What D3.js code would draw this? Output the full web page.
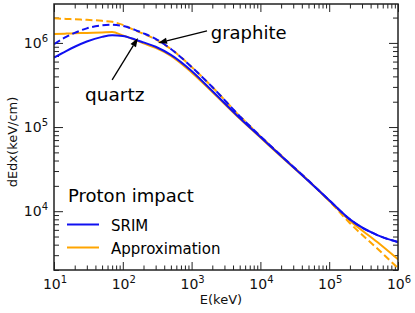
<!DOCTYPE html>
<html>
<head>
<meta charset="utf-8">
<script src="https://cdn.jsdelivr.net/npm/d3@7"></script>
<style>
  body { margin: 0; background: #fff; }
  svg { display: block; font-family: "DejaVu Sans", sans-serif; }
</style>
</head>
<body>
<svg id="chart" width="415" height="313"></svg>
<script>
// energies (keV)
const energy = [10, 15, 20, 30, 50, 70, 100, 150, 200, 300, 500, 1e3, 2e3, 5e3, 1e4, 2e4, 5e4, 1e5, 2e5, 5e5, 1e6];

// dE/dx (keV/cm)
const srimQuartz = [6.7e5, 8.0e5, 9.0e5, 1.04e6, 1.18e6, 1.235e6, 1.21e6, 1.10e6, 1.014e6, 9.0e5, 7.2e5, 4.64e5, 2.68e5, 1.28e5, 7.6e4, 4.52e4, 2.28e4, 1.35e4, 8.0e3, 5.2e3, 4.3e3];
const srimGraphite = [9.65e5, 1.18e6, 1.315e6, 1.49e6, 1.615e6, 1.64e6, 1.59e6, 1.43e6, 1.30e6, 1.116e6, 8.48e5, 5.18e5, 2.99e5, 1.35e5, 7.8e4, 4.58e4, 2.31e4, 1.35e4, 8.0e3, 5.2e3, 4.3e3];
const approxQuartz = [1.28e6, 1.29e6, 1.30e6, 1.315e6, 1.334e6, 1.35e6, 1.228e6, 1.086e6, 9.86e5, 8.72e5, 7.0e5, 4.46e5, 2.61e5, 1.26e5, 7.5e4, 4.46e4, 2.28e4, 1.33e4, 7.7e3, 4.3e3, 2.68e3];
const approxGraphite = [1.96e6, 1.93e6, 1.905e6, 1.88e6, 1.83e6, 1.78e6, 1.64e6, 1.41e6, 1.28e6, 1.10e6, 8.48e5, 5.18e5, 2.99e5, 1.35e5, 7.8e4, 4.58e4, 2.31e4, 1.33e4, 7.2e3, 3.6e3, 2.1e3];

const xTickExp = [1, 2, 3, 4, 5, 6];
const yTickExp = [4, 5, 6];
const legendLabels = ["SRIM", "Approximation"];

const svg = d3.select("#chart");
const margin = {left: 54, right: 17, top: 4, bottom: 43};
const W = 415, H = 313;

const x = d3.scaleLog().domain([10, 1e6]).range([margin.left, W - margin.right]);
const y = d3.scaleLog().domain([2000, 2.9e6]).range([H - margin.bottom, margin.top]);

const blue = "#1010f0", orange = "#ffa500";

// minor ticks
function minors(lo, hi) {
  const out = [];
  for (let e = lo; e < hi; e++) for (let k = 2; k <= 9; k++) {
    out.push(k * Math.pow(10, e));
  }
  return out;
}
const xMinor = minors(1, 6);
const yMinor = minors(3, 7).filter(v => v >= 2000 && v <= 2.9e6);
const xMajor = xTickExp.map(e => Math.pow(10, e));
const yMajor = yTickExp.map(e => Math.pow(10, e));

const axisCol = "#222";
function axisGroup(axis, tx, ty) {
  const g = svg.append("g").attr("transform", `translate(${tx},${ty})`).call(axis);
  g.selectAll("text").remove();
  g.select(".domain").remove();
  g.selectAll("line").attr("stroke", axisCol).attr("stroke-width", 1);
  return g;
}
const bY = H - margin.bottom, tY = margin.top, lX = margin.left, rX = W - margin.right;
axisGroup(d3.axisBottom(x).tickValues(xMajor).tickSize(-8), 0, bY);
axisGroup(d3.axisBottom(x).tickValues(xMinor).tickSize(-4.5), 0, bY);
axisGroup(d3.axisTop(x).tickValues(xMajor).tickSize(-8), 0, tY);
axisGroup(d3.axisTop(x).tickValues(xMinor).tickSize(-4.5), 0, tY);
axisGroup(d3.axisLeft(y).tickValues(yMajor).tickSize(-9), lX, 0);
axisGroup(d3.axisLeft(y).tickValues(yMinor).tickSize(-5), lX, 0);
axisGroup(d3.axisRight(y).tickValues(yMajor).tickSize(-9), rX, 0);
axisGroup(d3.axisRight(y).tickValues(yMinor).tickSize(-5), rX, 0);

// curves
const line = d3.line().x(d => x(d[0])).y(d => y(d[1])).curve(d3.curveMonotoneX);
const series = [
  {v: approxQuartz, c: orange, dash: null},
  {v: approxGraphite, c: orange, dash: "7,3.5"},
  {v: srimQuartz, c: blue, dash: null},
  {v: srimGraphite, c: blue, dash: "7,3.5"}
];
svg.append("clipPath").attr("id", "clip").append("rect")
  .attr("x", lX).attr("y", tY).attr("width", rX - lX).attr("height", bY - tY);
series.forEach(s => {
  svg.append("path")
    .datum(energy.map((e, i) => [e, s.v[i]]))
    .attr("clip-path", "url(#clip)")
    .attr("d", line)
    .attr("fill", "none")
    .attr("stroke", s.c)
    .attr("stroke-width", 2)
    .attr("stroke-dasharray", s.dash);
});

// frame
svg.append("rect").attr("x", lX).attr("y", tY).attr("width", rX - lX).attr("height", bY - tY)
  .attr("fill", "none").attr("stroke", axisCol).attr("stroke-width", 1.5);

// tick labels
xTickExp.forEach(e => {
  const t = svg.append("text").attr("x", x(Math.pow(10, e)) + 1).attr("y", 289)
    .attr("text-anchor", "middle").attr("font-size", 14).attr("fill", "#111");
  t.append("tspan").text("10");
  t.append("tspan").attr("dy", -6).attr("font-size", 10).text(e);
});
yTickExp.forEach(e => {
  const t = svg.append("text").attr("x", 48).attr("y", y(Math.pow(10, e)) + 5)
    .attr("text-anchor", "end").attr("font-size", 14).attr("fill", "#111");
  t.append("tspan").text("10");
  t.append("tspan").attr("dy", -6).attr("font-size", 10).text(e);
});

// axis titles
svg.append("text").attr("x", 221).attr("y", 304).attr("text-anchor", "middle")
  .attr("font-size", 13).attr("fill", "#111").text("E(keV)");
svg.append("text").attr("transform", "translate(17,142) rotate(-90)").attr("text-anchor", "middle")
  .attr("font-size", 13).attr("fill", "#111").text("dEdx(keV/cm)");

// annotations (data coordinates)
function arrow(from, to) {
  const x1 = x(from[0]), y1 = y(from[1]), x2 = x(to[0]), y2 = y(to[1]);
  const a = Math.atan2(y2 - y1, x2 - x1), L = 9, Wd = 3.2;
  const bx = x2 - L * Math.cos(a), by = y2 - L * Math.sin(a);
  svg.append("line").attr("x1", x1).attr("y1", y1).attr("x2", bx).attr("y2", by)
    .attr("stroke", "#000").attr("stroke-width", 1.3);
  svg.append("path").attr("d", `M${x2},${y2}L${bx - Wd * Math.sin(a)},${by + Wd * Math.cos(a)}L${bx + Wd * Math.sin(a)},${by - Wd * Math.cos(a)}Z`)
    .attr("fill", "#000");
}
arrow([1675, 1.39e6], [325, 1.0e6]);
arrow([70, 3.63e5], [166, 1.147e6]);
svg.append("text").attr("x", x(1900)).attr("y", y(1.116e6)).attr("font-size", 18).attr("fill", "#000").text("graphite");
svg.append("text").attr("x", x(28.2)).attr("y", y(2.04e5)).attr("font-size", 18.5).attr("fill", "#000").text("quartz");

// legend
svg.append("text").attr("x", 68).attr("y", 202).attr("font-size", 18).attr("fill", "#000").text("Proton impact");
[blue, orange].forEach((c, i) => {
  const ly = 224.5 + i * 23;
  svg.append("line").attr("x1", 67).attr("x2", 99).attr("y1", ly).attr("y2", ly)
    .attr("stroke", c).attr("stroke-width", 2);
  svg.append("text").attr("x", 111).attr("y", ly + 6).attr("font-size", 15).attr("fill", "#000").text(legendLabels[i]);
});
</script>
</body>
</html>
